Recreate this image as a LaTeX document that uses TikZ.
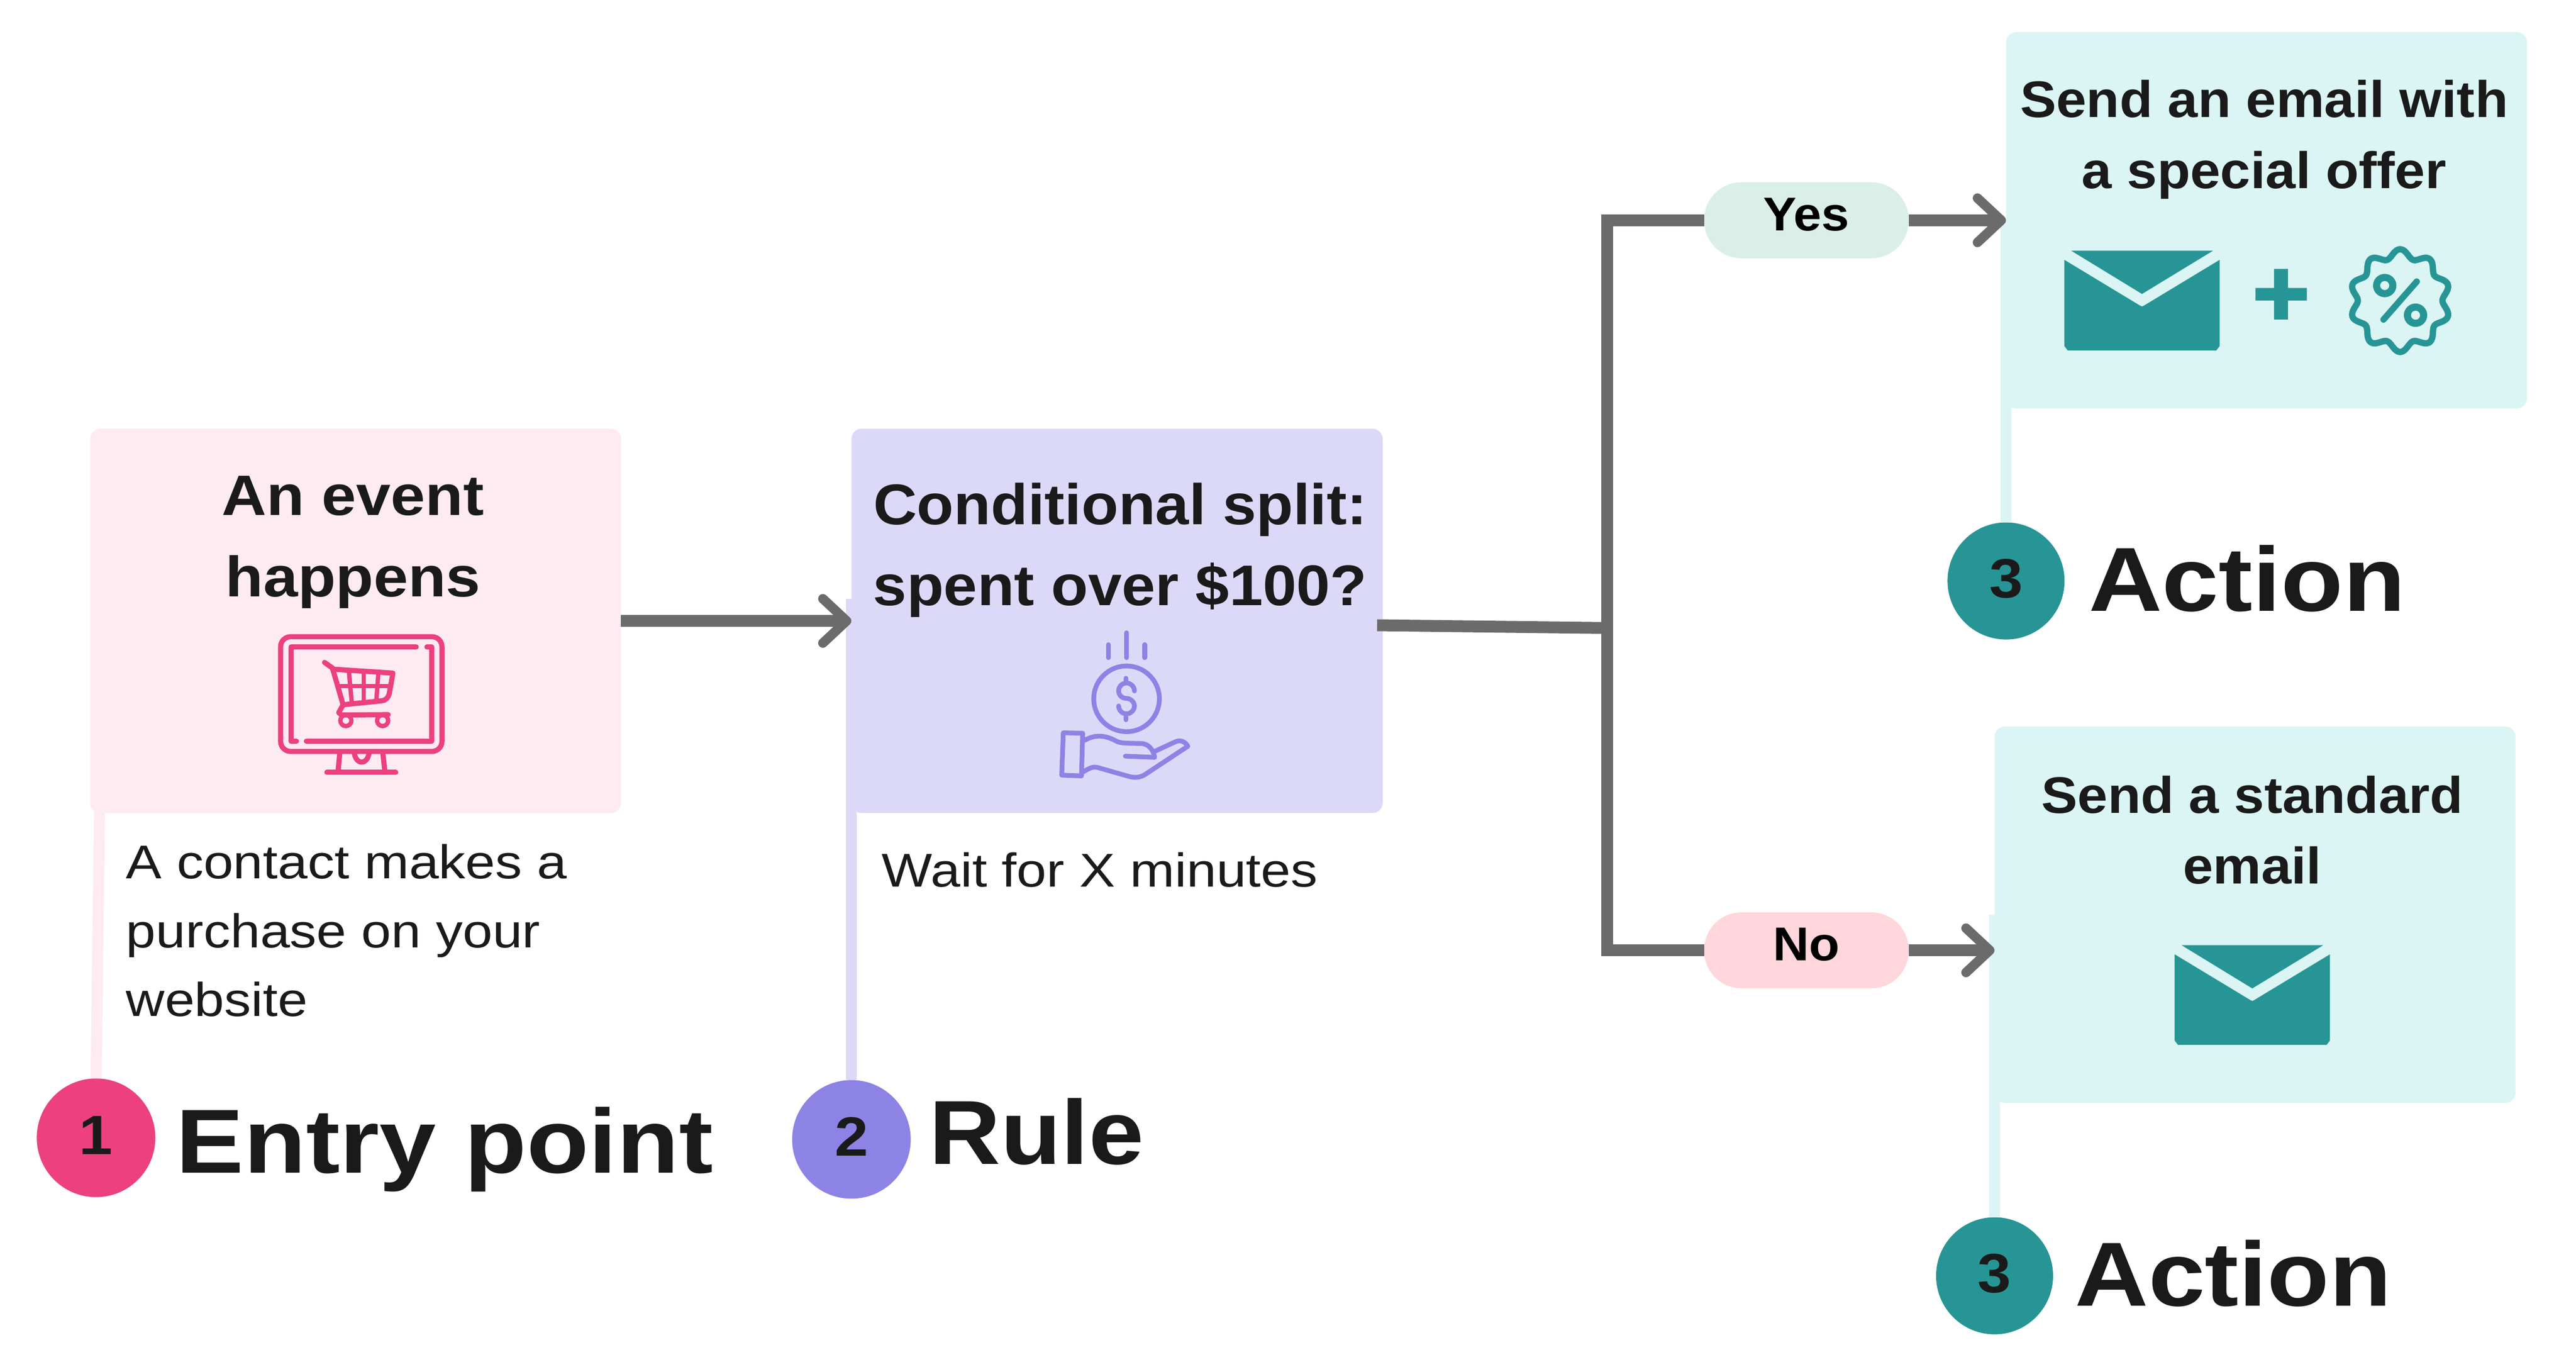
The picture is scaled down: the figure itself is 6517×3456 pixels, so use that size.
\documentclass[tikz,border=0pt]{standalone}
\usepackage{fontspec}
\setmainfont{Liberation Sans}[FakeStretch=1.09]
\newfontfamily\narrowface{Liberation Sans}[FakeStretch=1.055]
\newfontfamily\titleface{Liberation Sans}[FakeStretch=1.12]
\newfontfamily\bodyface{Liberation Sans}[FakeStretch=1.13]
\usetikzlibrary{arrows.meta}

\definecolor{linkgray}{HTML}{6B6B6B}
\definecolor{inkdark}{HTML}{1A1A1A}
\definecolor{entrypink}{HTML}{EC407F}
\definecolor{entrypale}{HTML}{FDEBF1}
\definecolor{rulepurple}{HTML}{8C83E5}
\definecolor{rulepale}{HTML}{DCD9F8}
\definecolor{actionteal}{HTML}{279595}
\definecolor{actionpale}{HTML}{DBF5F4}
\definecolor{yespale}{HTML}{D9EFE8}
\definecolor{nopale}{HTML}{FFD6DB}

\tikzset{
	panel/.style={rectangle, rounded corners=26pt, minimum width=#1, minimum height=952pt, inner sep=0pt},
	numdot/.style={circle, minimum size=300pt, inner sep=0pt, text=inkdark, text height=84pt, text depth=0pt, font=\bfseries\fontsize{140}{140}\selectfont},
	pill/.style={rectangle, rounded corners=94pt, minimum width=517pt, minimum height=192pt, inner sep=0pt, text=black, text height=90pt, text depth=38pt, font=\narrowface\bfseries\fontsize{120}{120}\selectfont},
	steptitle/.style={anchor=base west, inner sep=0pt, text=inkdark, font=\titleface\bfseries\fontsize{230}{230}\selectfont},
	boxtitle/.style={align=center, inner sep=0pt, text=inkdark},
	bodytext/.style={align=left, inner sep=0pt, text=inkdark, font=\bodyface\fontsize{120}{174}\selectfont},
	striplink/.style={line width=28pt},
	graylink/.style={draw=linkgray, line width=30pt},
	arrowlink/.style={graylink, -{Straight Barb[length=60pt,width=112pt,line width=24pt,round]}},
}

\def\mailicon(#1){
	\begin{scope}[shift={(#1)}]
		\fill[actionteal] (-179, 0) -- (179.5, 0) -- (0, 109.3) -- cycle;
		\fill[actionteal] (-196.5, 23) -- (-5, 138.7) -- (0, 141) -- (5, 138.7) -- (196.5, 23) -- (196.5, 241) -- (188, 252) -- (-188, 252) -- (-196.5, 241) -- cycle;
	\end{scope}
}

\begin{document}
\begin{tikzpicture}[x=1pt, y=-1pt, line cap=butt]
			\useasboundingbox (0, 0) rectangle (6517, 3456);
			
			%%%%% BOXES %%%%%
			
			\node[panel=1343pt, minimum height=972pt, fill=entrypale] (entrybox) at (899.5, 1570) {};
			\node[panel=1344pt, minimum height=972pt, fill=rulepale] (rulebox) at (2826, 1570) {};
			\node[panel=1318pt, fill=actionpale] (offerbox) at (5734, 557) {};
			\node[panel=1318pt, fill=actionpale] (plainbox) at (5705, 2313) {};
			
			\node[boxtitle, font=\bfseries\fontsize{144}{205}\selectfont] (entrytitle) at (893, 1371) {An event\\happens};
			\node[boxtitle, font=\narrowface\bfseries\fontsize{145}{205}\selectfont] (ruletitle) at (2834, 1391) {Conditional split:\\spent over \$100?};
			\node[boxtitle, font=\narrowface\bfseries\fontsize{130}{179}\selectfont] (offertitle) at (5728, 353) {Send an email with\\a special offer};
			\node[boxtitle, font=\narrowface\bfseries\fontsize{130}{179}\selectfont] (plaintitle) at (5698, 2099) {Send a standard\\email};
			
			\node[bodytext, anchor=north west] (entrytext) at (319, 2135) {A contact makes a\\purchase on your\\website};
			\node[bodytext, anchor=base west] (ruletext) at (2231, 2243) {Wait for X minutes};
			
			%%%%% STEP NUMBERS %%%%%
			
			\node[numdot, fill=entrypink] (entrynum) at (243, 2877) {1};
			\node[numdot, fill=rulepurple] (rulenum) at (2154, 2881) {2};
			\node[numdot, fill=actionteal, minimum size=296pt] (offernum) at (5075, 1469) {3};
			\node[numdot, fill=actionteal, minimum size=296pt] (plainnum) at (5046, 3226) {3};
			
			\node[steptitle] (entrylabel) at (445, 2966) {Entry point};
			\node[steptitle, font=\bfseries\fontsize{230}{230}\selectfont] (rulelabel) at (2350, 2944) {Rule};
			\node[steptitle] (offerlabel) at (5284, 1545) {Action};
			\node[steptitle] (plainlabel) at (5249, 3302) {Action};
			
			\coordinate (entrytop) at (252, 2040);
			\coordinate (ruletop) at (2154, 1515);
			\draw[striplink, entrypale] (entrytop) -- (entrynum.north);
			\draw[striplink, rulepale] (ruletop) -- (rulenum.north);
			\draw[striplink, actionpale] (offerbox.west) -- (offernum.north);
			\draw[striplink, actionpale] (plainbox.west) -- (plainnum.north);
			
			%%%%% LINKS %%%%%
			
			\node[pill, fill=yespale] (yespill) at (4570, 557) {Yes};
			\node[pill, fill=nopale] (nopill) at (4570, 2403) {No};
			
			\coordinate (splitout) at (3484, 1581);
			\coordinate (junction) at (4066, 1588);
			
			\draw[arrowlink] (entrybox.east) -- (rulebox.west);
			\draw[graylink] (splitout) -- (junction);
			\draw[graylink] (yespill.west) -| (junction);
			\draw[graylink] (nopill.west) -| (junction);
			\draw[arrowlink] (yespill.east) -- (offerbox.west);
			\draw[arrowlink] (nopill.east) -- (nopill.east -| plainbox.west);
			
			%%%%% MONITOR %%%%%
			
			\begin{scope}[draw=entrypink, line width=13pt, line cap=round, line join=round]
				\draw[rounded corners=25pt] (710, 1610) rectangle (1118, 1900);
				\draw (1053, 1636) -- (736, 1636) -- (736, 1874) -- (750, 1874);
				\draw (1080, 1636) -- (1092, 1636) -- (1092, 1874) -- (775, 1874);
				\draw (860, 1900) -- (855, 1953);
				\draw (968, 1900) -- (974, 1953);
				\draw (827, 1953) -- (1001, 1953);
				\draw (896, 1900) .. controls (898, 1936) and (932, 1936) .. (934, 1900);
				\draw (821, 1675) -- (841, 1689) -- (868, 1782) -- (857, 1802) -- (864, 1808) -- (982, 1807);
				\draw (841, 1692) -- (994, 1702) -- (985, 1753) .. controls (982, 1765) and (975, 1771) .. (966, 1772) -- (868, 1782);
				\draw[line width=11pt] (857, 1735) -- (988, 1735);
				\draw[line width=11pt] (883, 1702) -- (890, 1777);
				\draw[line width=11pt] (920, 1702) -- (920, 1776);
				\draw[line width=11pt] (957, 1705) -- (952, 1772);
				\draw[line width=11pt] (875, 1822) circle (14);
				\draw[line width=11pt] (968, 1822) circle (14);
			\end{scope}
			
			%%%%% COIN AND HAND %%%%%
			
			\begin{scope}[draw=rulepurple, line width=12pt, line cap=round, line join=round]
				\draw (2850, 1600) -- (2850, 1663);
				\draw (2804, 1630) -- (2804, 1663);
				\draw (2896, 1630) -- (2896, 1663);
				\draw (2850, 1767) circle (83);
				\draw (2849, 1715) -- (2849, 1722);
				\draw (2849, 1813) -- (2849, 1820);
				\draw (2870, 1747) .. controls (2870, 1736) and (2860, 1727) .. (2850, 1727) .. controls (2839, 1727) and (2830, 1736) .. (2830, 1747) .. controls (2830, 1758) and (2839, 1766) .. (2850, 1766) .. controls (2860, 1766) and (2870, 1775) .. (2870, 1785) .. controls (2870, 1796) and (2860, 1805) .. (2850, 1805) .. controls (2839, 1805) and (2830, 1796) .. (2830, 1785);
				\draw (2690, 1853) -- (2739, 1854) -- (2736, 1962) -- (2686, 1960) -- cycle;
				\draw (2744, 1872) .. controls (2770, 1857) and (2795, 1858) .. (2824, 1874) .. controls (2835, 1880) and (2850, 1879) .. (2888, 1880) .. controls (2905, 1881) and (2918, 1895) .. (2921, 1915) -- (2847, 1912);
				\draw (2921, 1900) -- (2975, 1875) .. controls (2987, 1870) and (2999, 1876) .. (3005, 1887) -- (2902, 1955) .. controls (2890, 1964) and (2875, 1969) .. (2855, 1963) -- (2778, 1941) .. controls (2765, 1937) and (2755, 1943) .. (2740, 1952);
			\end{scope}
			
			%%%%% ACTION ICONS %%%%%
			
			\mailicon(5419, 634)
			\mailicon(5698, 2390)
			
			\fill[actionteal] (5753, 680) -- (5788, 680) -- (5788, 728) -- (5836, 728) -- (5836, 760) -- (5788, 760) -- (5788, 808) -- (5753, 808) -- (5753, 760) -- (5706, 760) -- (5706, 728) -- (5753, 728) -- cycle;
			
			\draw[actionteal, line width=16pt, line join=round] plot[domain=0:360, samples=121, smooth] ({6072 + (117 + 10*cos(10*\x))*sin(\x)}, {760 - (119 + 11*cos(10*\x))*cos(\x)}) -- cycle;
			\draw[actionteal, line width=18pt] (6033, 722) circle (20.5);
			\draw[actionteal, line width=18pt] (6111, 797) circle (20.5);
			\draw[actionteal, line width=16pt, line cap=round] (6114, 712) -- (6030, 808);
			
\end{tikzpicture}
\end{document}
